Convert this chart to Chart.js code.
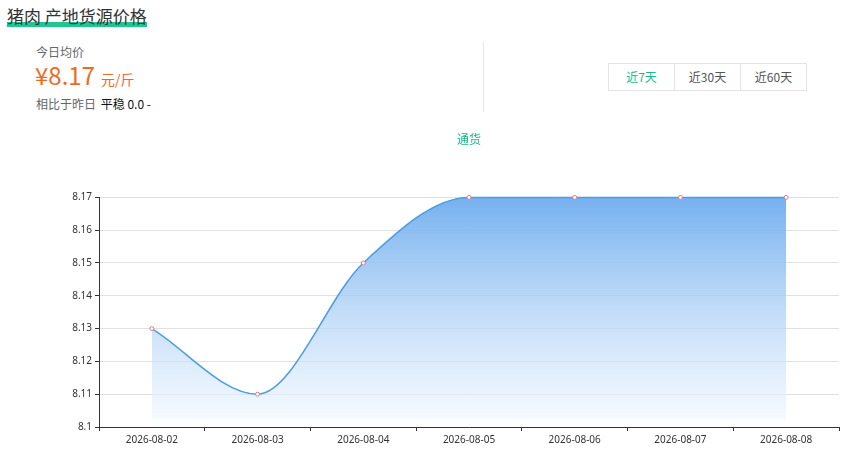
<!DOCTYPE html>
<html>
<head>
<meta charset="utf-8">
<script src="https://cdn.jsdelivr.net/npm/chart.js@4.4.1/dist/chart.umd.min.js"></script>
<style>
    html, body { margin: 0; padding: 0; background: #fff; }
    body { width: 848px; height: 452px; position: relative; overflow: hidden; font-family: "Noto Sans CJK SC", "Noto Sans", sans-serif; }
    .title { position: absolute; left: 7px; top: 4px; font-size: 17px; color: #333; line-height: 24px; }
    .title .bar { position: absolute; left: 0; right: 0; top: 18px; height: 5px; background: #1ec692; z-index: 0; }
    .title span.txt { position: relative; z-index: 1; }
    .label { position: absolute; left: 36px; top: 43px; font-size: 12px; color: #666; }
    .price { position: absolute; left: 35px; top: 59px; color: #f06a1e; font-size: 24px; line-height: 32px; }
    .price small { font-size: 14px; margin-left: 6px; }
    .cmp { position: absolute; left: 36px; top: 95px; font-size: 12px; color: #666; }
    .cmp b { font-weight: normal; color: #111; margin-left: 2px; }
    .divider { position: absolute; left: 483px; top: 42px; width: 1px; height: 70px; background: #e8e8e8; }
    .tabs { position: absolute; left: 608px; top: 63px; display: flex; border: 1px solid #e3e3e3; }
    .tabs div { width: 65px; height: 26px; line-height: 26px; text-align: center; font-size: 12px; color: #555; }
    .tabs div + div { border-left: 1px solid #e3e3e3; }
    .tabs div.on { color: #1ab98d; }
    #wrap { position: absolute; left: 0; top: 120px; width: 848px; height: 332px; }
</style>
</head>
<body>
<div class="title"><div class="bar"></div><span class="txt">猪肉 产地货源价格</span></div>
<div class="label">今日均价</div>
<div class="price">¥8.17<small>元/斤</small></div>
<div class="cmp">相比于昨日 <b>平稳 0.0 -</b></div>
<div class="divider"></div>
<div class="tabs"><div class="on">近7天</div><div>近30天</div><div>近60天</div></div>
<div id="wrap"><canvas id="priceChart"></canvas></div>
<script>
let dates = ['2026-08-02', '2026-08-03', '2026-08-04', '2026-08-05', '2026-08-06', '2026-08-07', '2026-08-08'];
let prices = [8.13, 8.11, 8.15, 8.17, 8.17, 8.17, 8.17];
let yTicks = [8.1, 8.11, 8.12, 8.13, 8.14, 8.15, 8.16, 8.17];
let seriesName = '通货';

let fillGradient = (context) => {
    const area = context.chart.chartArea;
    if (!area) return 'rgba(100,170,240,0.5)';
    const g = context.chart.ctx.createLinearGradient(0, area.top, 0, area.bottom);
    g.addColorStop(0, 'rgba(110,172,238,0.95)');
    g.addColorStop(0.95, 'rgba(235,244,253,0.6)');
    g.addColorStop(1, 'rgba(255,255,255,0)');
    return g;
};

const ctx = document.getElementById('priceChart');
const priceChart = new Chart(ctx, {
    type: 'line',
    data: {
        labels: dates,
        datasets: [{
            label: seriesName,
            data: prices,
            borderColor: '#4a9de0',
            borderWidth: 1.5,
            backgroundColor: fillGradient,
            fill: 'start',
            clip: false,
            cubicInterpolationMode: 'monotone',
            pointRadius: 2,
            pointBorderWidth: 1,
            pointBorderColor: '#e07a86',
            pointBackgroundColor: '#fff'
        }]
    },
    options: {
        responsive: true,
        maintainAspectRatio: false,
        animation: false,
        layout: { padding: { left: 0, right: 9, top: 0, bottom: 3 } },
        plugins: {
            legend: { display: false },
            tooltip: { enabled: false },
            title: {
                display: true,
                fullSize: false,
                text: seriesName,
                color: '#1ab98d',
                font: { size: 12, family: '"Noto Sans CJK SC", sans-serif', weight: 'normal' },
                padding: { top: 12, bottom: 51 }
            }
        },
        scales: {
            x: {
                offset: true,
                grid: {
                    offset: true,
                    drawOnChartArea: false,
                    drawTicks: true,
                    tickLength: 4,
                    tickColor: '#333'
                },
                border: { color: '#333' },
                ticks: { color: '#333', font: { size: 10, family: '"Noto Sans", sans-serif' }, maxRotation: 0, padding: 3 }
            },
            y: {
                min: 8.1,
                max: 8.17,
                afterBuildTicks: (axis) => {
                    axis.ticks = yTicks.map(v => ({ value: v }));
                },
                afterFit: (axis) => {
                    axis.width = 99;
                },
                grid: { color: '#e0e0e0', tickColor: '#333', tickLength: 4 },
                border: { color: '#333' },
                ticks: {
                    color: '#333',
                    font: { size: 10, family: '"Noto Sans", sans-serif' },
                    padding: 3,
                    callback: (v) => String(+v.toFixed(2))
                }
            }
        }
    }
});
</script>
</body>
</html>
